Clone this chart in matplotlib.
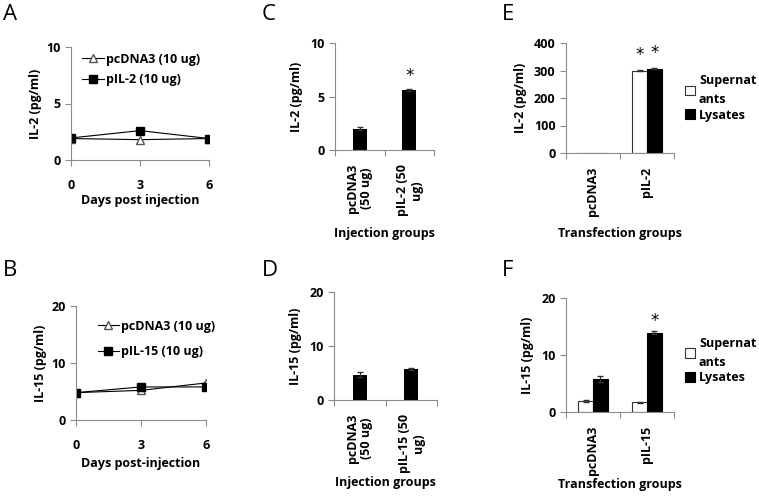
import numpy as np
import matplotlib
matplotlib.use("Agg")
import matplotlib.pyplot as plt

plt.rcParams['font.family'] = ['Open Sans', 'DejaVu Sans']
plt.rcParams['font.weight'] = 'bold'
plt.rcParams['axes.labelweight'] = 'bold'

# panel A / B : time course
days = [0, 3, 6]
a_pcdna3 = [1.9, 1.8, 1.9]
a_pil2 = [1.95, 2.6, 1.9]
b_pcdna3 = [4.8, 5.2, 6.5]
b_pil15 = [4.8, 5.8, 5.8]

# panel C / D : injection groups
c_labels = ["pcDNA3\n(50 ug)", "pIL-2 (50\nug)"]
c_values = [2.0, 5.6]
c_err = [0.15, 0.12]
d_labels = ["pcDNA3\n(50 ug)", "pIL-15 (50\nug)"]
d_values = [4.7, 5.7]
d_err = [0.5, 0.15]

# panel E / F : transfection groups
e_labels = ["pcDNA3", "pIL-2"]
e_super = [0, 300]
e_super_err = [np.nan, 2]
e_lys = [0, 307]
e_lys_err = [np.nan, 3]
f_labels = ["pcDNA3", "pIL-15"]
f_super = [1.9, 1.7]
f_super_err = [0.15, 0.1]
f_lys = [5.8, 13.9]
f_lys_err = [0.6, 0.3]

W, H = 759, 497
fig = plt.figure(figsize=(W / 100, H / 100), dpi=100)

AXC = '#8c8c8c'
FS = 9


def make_ax(l, r, b, t):
    ax = fig.add_axes([l / W, 1 - b / H, (r - l) / W, (b - t) / H])
    for s in ['top', 'right']:
        ax.spines[s].set_visible(False)
    for s in ['left', 'bottom']:
        ax.spines[s].set_color(AXC)
        ax.spines[s].set_linewidth(0.8)
    ax.tick_params(colors=AXC, labelcolor='black', labelsize=FS, width=0.8, length=4)
    return ax


def panel_letter(x, y, s):
    fig.text(x / W, 1 - y / H, s, fontsize=16, fontweight='normal', ha='left', va='center')


def star(ax, x, y):
    ax.text(x, y, '*', ha='center', va='center', fontsize=12, fontweight='normal',
            family='DejaVu Sans')


# ---- A
ax = make_ax(71, 209, 160, 47)
ax.plot(days, a_pcdna3, color='black', lw=0.8, marker='^', mfc='white', mec='#555555', ms=6,
        label='pcDNA3 (10 ug)')
ax.plot(days, a_pil2, color='black', lw=0.8, marker='s', mfc='black', ms=6, label='pIL-2 (10 ug)')
ax.set_xlim(0, 6)
ax.set_ylim(0, 10)
ax.set_xticks(days)
ax.set_yticks([0, 5, 10])
ax.tick_params(axis='x', pad=10)
ax.set_ylabel('IL-2 (pg/ml)', fontsize=FS, labelpad=3)
ax.set_xlabel('Days post injection', fontsize=FS, labelpad=1)
ax.legend(loc='upper left', bbox_to_anchor=(0.0, 1.05), frameon=False,
          prop={'weight': 'bold', 'size': FS}, handlelength=1.7, handletextpad=0.2, labelspacing=0.6)
panel_letter(3, 15, 'A')

# ---- B
ax = make_ax(76, 206, 420, 306)
ax.plot(days, b_pcdna3, color='black', lw=0.8, marker='^', mfc='white', mec='#555555', ms=6,
        label='pcDNA3 (10 ug)')
ax.plot(days, b_pil15, color='black', lw=0.8, marker='s', mfc='black', ms=6, label='pIL-15 (10 ug)')
ax.set_xlim(0, 6)
ax.set_ylim(0, 20)
ax.set_xticks(days)
ax.set_yticks([0, 10, 20])
ax.tick_params(axis='x', pad=10)
ax.set_ylabel('IL-15 (pg/ml)', fontsize=FS, labelpad=3)
ax.set_xlabel('Days post-injection', fontsize=FS, labelpad=3)
ax.legend(loc='upper left', bbox_to_anchor=(0.08, 0.98), frameon=False,
          prop={'weight': 'bold', 'size': FS}, handlelength=1.7, handletextpad=0.2, labelspacing=1.0)
panel_letter(3, 270, 'B')


def cat_axis(ax, labels):
    x = np.arange(len(labels))
    ax.set_xlim(-0.5, len(labels) - 0.5)
    ax.set_xticks(np.arange(len(labels) + 1) - 0.5)
    ax.set_xticklabels([])
    ax.set_xticks(x, minor=True)
    ax.set_xticklabels(labels, minor=True, rotation=90, fontsize=FS, fontweight='bold',
                       va='top', ha='center', linespacing=1.1)
    ax.tick_params(axis='x', which='minor', length=0, pad=10)
    return x


# ---- C
ax = make_ax(335, 434, 150, 43)
x = cat_axis(ax, c_labels)
ax.bar(x, c_values, width=0.28, color='black', yerr=c_err, ecolor='#333333', capsize=2,
       error_kw={'elinewidth': 0.8})
star(ax, x[1], 6.9)
ax.set_ylim(0, 10)
ax.set_yticks([0, 5, 10])
ax.set_ylabel('IL-2 (pg/ml)', fontsize=FS, labelpad=5)
ax.set_xlabel('Injection groups', fontsize=FS, labelpad=8)
panel_letter(262, 15, 'C')

# ---- D
ax = make_ax(334, 437, 400, 292)
x = cat_axis(ax, d_labels)
ax.bar(x, d_values, width=0.28, color='black', yerr=d_err, ecolor='#333333', capsize=2,
       error_kw={'elinewidth': 0.8})
ax.set_ylim(0, 20)
ax.set_yticks([0, 10, 20])
ax.set_ylabel('IL-15 (pg/ml)', fontsize=FS, labelpad=5)
ax.set_xlabel('Injection groups', fontsize=FS, labelpad=2)
panel_letter(262, 270, 'D')

# ---- E
ax = make_ax(566, 674, 153, 43)
x = cat_axis(ax, e_labels)
bw = 0.27
ax.bar(x - bw / 2, e_super, width=bw, color='white', edgecolor='#333333', lw=0.8,
       yerr=e_super_err, ecolor='#333333', capsize=2, error_kw={'elinewidth': 0.8}, label='Supernat\nants')
ax.bar(x + bw / 2, e_lys, width=bw, color='black', edgecolor='black', lw=0.8,
       yerr=e_lys_err, ecolor='#333333', capsize=2, error_kw={'elinewidth': 0.8}, label='Lysates')
star(ax, x[1] - bw / 2, 355)
star(ax, x[1] + bw / 2, 362)
ax.set_ylim(0, 400)
ax.set_yticks([0, 100, 200, 300, 400])
ax.set_ylabel('IL-2 (pg/ml)', fontsize=FS, labelpad=5)
ax.set_xlabel('Transfection groups', fontsize=FS, labelpad=8)
leg = ax.legend(loc='upper left', bbox_to_anchor=(1.0, 0.82), frameon=False,
                prop={'weight': 'bold', 'size': FS}, handlelength=0.8, handleheight=0.8,
                handletextpad=0.3, labelspacing=0.2)
for t in leg.get_texts():
    t.set_linespacing(1.6)
panel_letter(502, 15, 'E')

# ---- F
ax = make_ax(566, 674, 412, 298)
x = cat_axis(ax, f_labels)
ax.bar(x - bw / 2, f_super, width=bw, color='white', edgecolor='#333333', lw=0.8,
       yerr=f_super_err, ecolor='#333333', capsize=2, error_kw={'elinewidth': 0.8}, label='Supernat\nants')
ax.bar(x + bw / 2, f_lys, width=bw, color='black', edgecolor='black', lw=0.8,
       yerr=f_lys_err, ecolor='#333333', capsize=2, error_kw={'elinewidth': 0.8}, label='Lysates')
star(ax, x[1] + bw / 2, 16.0)
ax.set_ylim(0, 20)
ax.set_yticks([0, 10, 20])
ax.set_ylabel('IL-15 (pg/ml)', fontsize=FS, labelpad=5)
ax.set_xlabel('Transfection groups', fontsize=FS, labelpad=2)
leg = ax.legend(loc='upper left', bbox_to_anchor=(1.0, 0.76), frameon=False,
                prop={'weight': 'bold', 'size': FS}, handlelength=0.8, handleheight=0.8,
                handletextpad=0.3, labelspacing=0.2)
for t in leg.get_texts():
    t.set_linespacing(1.6)
panel_letter(502, 270, 'F')

fig.savefig('out.png', dpi=100, facecolor='white')
